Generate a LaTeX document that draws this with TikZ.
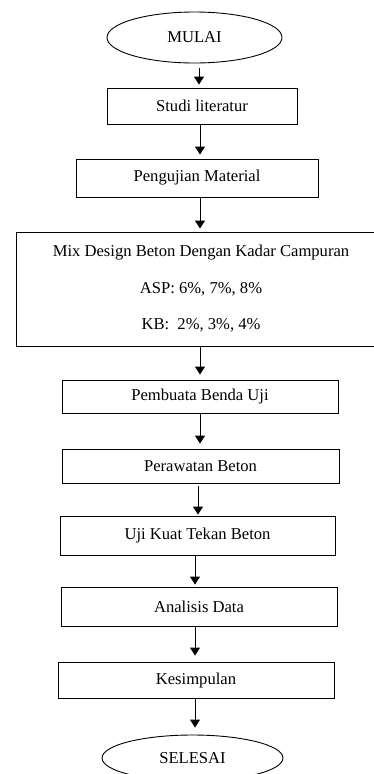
\documentclass[tikz,border=0pt]{standalone}
\usepackage{fontspec}
\setmainfont{Liberation Serif}
\usepackage{tikz}
\usetikzlibrary{shapes.geometric, arrows.meta}

\begin{document}
\begin{tikzpicture}[
      x=1pt, y=-1pt,
      font=\fontsize{16.6}{20}\selectfont,
      terminal/.style={ellipse, draw, line width=0.9pt, inner sep=0pt,
                       minimum width=#1, minimum height=48pt},
      stepbox/.style={rectangle, draw, line width=0.9pt, inner sep=0pt, align=center,
                      minimum width=276pt, minimum height=36pt},
      mixbox/.style={rectangle, draw, line width=0.9pt, inner sep=0pt, align=center,
                     minimum width=370pt, minimum height=114pt,
                     font=\fontsize{16.6}{36.5}\selectfont},
      a/.style={-{Triangle[length=8pt, width=10pt]}, line width=0.9pt},
    ]
    \useasboundingbox (0,0) rectangle (374,774);

    \node[terminal=175pt, minimum height=51pt] (mulai) at (194.5, 37.5) {MULAI};
    \node[stepbox, minimum width=190pt] (studi) at (202, 106) {Studi literatur};
    \node[stepbox, minimum width=242pt, minimum height=38pt] (uji_mat) at (197, 178) {Pengujian Material};
    \node[mixbox] (mix) at (201, 289) {Mix Design Beton Dengan Kadar Campuran\\
      ASP: 6\%, 7\%, 8\%\\ KB:\ \ 2\%, 3\%, 4\%};
    \node[stepbox, minimum height=33pt] (benda) at (200, 396.5) {Pembuata Benda Uji};
    \node[stepbox, minimum width=277pt, minimum height=34pt] (rawat) at (200.5, 466) {Perawatan Beton};
    \node[stepbox, minimum width=275pt, minimum height=39pt] (tekan) at (197.5, 535.5) {Uji Kuat Tekan Beton};
    \node[stepbox, minimum height=39pt] (analisis) at (199, 606.5) {Analisis Data};
    \node[stepbox] (simpul) at (196, 680) {Kesimpulan};
    \node[terminal=181pt, minimum height=46pt] (selesai) at (192.5, 758) {SELESAI};

    \draw[a, shorten <=5pt, shorten >=3pt] ([xshift=4.5pt]mulai.south) -- ([xshift=-3pt]studi.north);
    \draw[a, shorten >=4pt] ([xshift=-2pt]studi.south) -- ([xshift=3pt]uji_mat.north);
    \draw[a, shorten >=3pt] ([xshift=3pt]uji_mat.south) -- ([xshift=-1pt]mix.north);
    \draw[a, shorten >=5pt] ([xshift=-1pt]mix.south) -- (benda.north);
    \draw[a, shorten >=5pt] (benda.south) -- ([xshift=-0.5pt]rawat.north);
    \draw[a, shorten <=3pt, shorten >=1pt] ([xshift=-2.5pt]rawat.south) -- ([xshift=0.5pt]tekan.north);
    \draw[a, shorten >=2pt] ([xshift=-2.5pt]tekan.south) -- ([xshift=-4pt]analisis.north);
    \draw[a, shorten >=6pt] ([xshift=-4pt]analisis.south) -- ([xshift=-1pt]simpul.north);
    \draw[a, shorten >=7pt] ([xshift=-1pt]simpul.south) -- ([xshift=2.5pt]selesai.north);
  \end{tikzpicture}
\end{document}
